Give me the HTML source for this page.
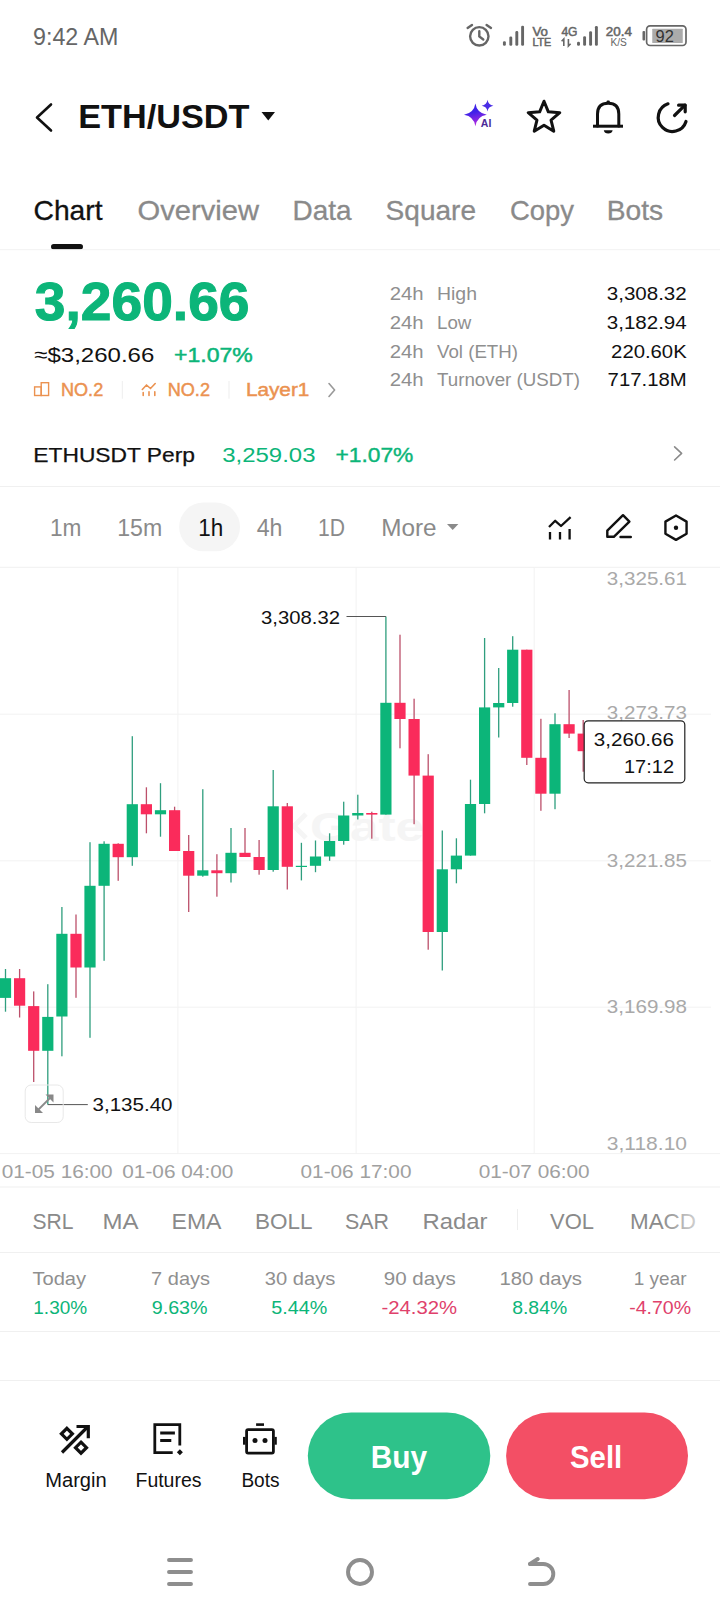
<!DOCTYPE html>
<html><head><meta charset="utf-8"><title>ETH/USDT</title>
<style>
html,body{margin:0;padding:0;background:#fff;}
body{width:720px;height:1612px;overflow:hidden;position:relative;}
svg{position:absolute;left:0;top:0;font-family:'Liberation Sans', Arial, sans-serif;}
</style></head><body>
<svg width="720" height="1612" viewBox="0 0 720 1612">
<text x="33" y="45" font-size="23.3" fill="#666" text-anchor="start" font-weight="normal" textLength="85.3" lengthAdjust="spacingAndGlyphs">9:42 AM</text>
<g stroke="#666" fill="none" stroke-width="2.4" stroke-linecap="round"><circle cx="479.3" cy="36.3" r="9.2"/><path d="M479.3 31.3 V36.5 L483.3 39.5"/><path d="M467.6 27.9 L472 24.9"/><path d="M491 27.9 L486.6 24.9"/></g>
<rect x="502.95" y="41.3" width="2.9" height="4.5" fill="#666" rx="1.3"/>
<rect x="509.35" y="36.4" width="2.9" height="9.399999999999999" fill="#666" rx="1.3"/>
<rect x="515.3499999999999" y="31.1" width="2.9" height="14.699999999999996" fill="#666" rx="1.3"/>
<rect x="521.15" y="25.8" width="2.9" height="19.999999999999996" fill="#666" rx="1.3"/>
<text x="532.4" y="35.6" font-size="13.5" fill="#666" text-anchor="start" font-weight="normal" textLength="15.5" lengthAdjust="spacingAndGlyphs" stroke="#666" stroke-width="0.55">Vo</text>
<text x="532.4" y="46.1" font-size="11.5" fill="#666" text-anchor="start" font-weight="normal" textLength="18.9" lengthAdjust="spacingAndGlyphs" stroke="#666" stroke-width="0.55">LTE</text>
<text x="561.4" y="35.6" font-size="13.5" fill="#666" text-anchor="start" font-weight="normal" textLength="16.1" lengthAdjust="spacingAndGlyphs" stroke="#666" stroke-width="0.55">4G</text>
<g stroke="#666" stroke-width="1.6" fill="none"><path d="M563.8 46 V39 L561.6 41.2"/><path d="M568.4 39 V46 L570.6 43.8"/></g>
<rect x="577.05" y="41.8" width="2.9" height="4.0" fill="#666" rx="1.3"/>
<rect x="583.15" y="36.2" width="2.9" height="9.599999999999994" fill="#666" rx="1.3"/>
<rect x="589.15" y="31.2" width="2.9" height="14.599999999999998" fill="#666" rx="1.3"/>
<rect x="594.9499999999999" y="25.9" width="2.9" height="19.9" fill="#666" rx="1.3"/>
<text x="605.8" y="36.3" font-size="13" fill="#666" text-anchor="start" font-weight="normal" textLength="26.1" lengthAdjust="spacingAndGlyphs" stroke="#666" stroke-width="0.55">20.4</text>
<text x="610.4" y="46.1" font-size="10" fill="#666" text-anchor="start" font-weight="normal" textLength="16.4" lengthAdjust="spacingAndGlyphs">K/S</text>
<rect x="646.6" y="25.9" width="39.4" height="19.6" fill="none" rx="3.5" stroke="#666" stroke-width="1.7"/>
<rect x="642.5" y="30.9" width="2.6" height="9.6" fill="#666" rx="1"/>
<rect x="652.25" y="28.8" width="30.5" height="14.2" fill="#ababab" rx="0.5"/>
<text x="655.6" y="41.75" font-size="16.3" fill="#333" text-anchor="start" font-weight="normal" textLength="18.3" lengthAdjust="spacingAndGlyphs">92</text>
<path d="M51 104.5 L37 117.5 L51 130.5" stroke="#111" stroke-width="2.6" fill="none" stroke-linecap="round" stroke-linejoin="round"/>
<text x="78.2" y="128.4" font-size="33.8" fill="#111" text-anchor="start" font-weight="bold" textLength="171.3" lengthAdjust="spacingAndGlyphs">ETH/USDT</text>
<path d="M261.5 112 H275 L268.25 120.5 Z" fill="#111"/>
<defs><linearGradient id="ai" x1="0" y1="0" x2="0.25" y2="1"><stop offset="0.45" stop-color="#3f22e8"/><stop offset="1" stop-color="#b02ae0"/></linearGradient></defs>
<path d="M475.4 103.6 Q476.9 113.2 486.8 114.8 Q476.9 116.4 475.4 126.3 Q473.9 116.4 464 114.8 Q473.9 113.2 475.4 103.6 Z" fill="url(#ai)"/>
<path d="M487.5 99.8 Q488.2 105 493.4 105.7 Q488.2 106.4 487.5 111.6 Q486.8 106.4 481.7 105.7 Q486.8 105 487.5 99.8 Z" fill="#4a2ee6"/>
<text x="480.8" y="126.7" font-size="10" fill="#4b2b98" text-anchor="start" font-weight="bold" textLength="10.5" lengthAdjust="spacingAndGlyphs">AI</text>
<path d="M544.00 101.20 L548.35 111.81 L559.79 112.67 L551.04 120.09 L553.76 131.23 L544.00 125.20 L534.24 131.23 L536.96 120.09 L528.21 112.67 L539.65 111.81 Z" stroke="#111" stroke-width="3" fill="none" stroke-linecap="round" stroke-linejoin="round"/>
<path d="M597.5 126 V114 Q597.5 103.2 608.2 103.2 Q618.8 103.2 618.8 114 V126" stroke="#111" stroke-width="3" fill="none" stroke-linecap="round" stroke-linejoin="round"/>
<line x1="593" y1="126.2" x2="623" y2="126.2" stroke="#111" stroke-width="3"/>
<path d="M603.8 130.2 H612.6 Q612 133.4 608.2 133.4 Q604.4 133.4 603.8 130.2 Z" fill="#111"/>
<rect x="606.6" y="100.6" width="3.2" height="3" fill="#111" rx="1"/>
<path d="M686 121.5 A14.2 14.2 0 1 1 668 103.8" stroke="#111" stroke-width="3.2" fill="none" stroke-linecap="round" stroke-linejoin="round"/>
<path d="M674.5 115.5 L685 105.2" stroke="#111" stroke-width="3.2" fill="none" stroke-linecap="round" stroke-linejoin="round"/>
<path d="M678.6 105.2 H685.2 V111.8" stroke="#111" stroke-width="3.2" fill="none" stroke-linecap="round" stroke-linejoin="round"/>
<text x="33.5" y="220" font-size="27.2" fill="#111" text-anchor="start" font-weight="normal" textLength="69.0" lengthAdjust="spacingAndGlyphs" stroke="#111" stroke-width="0.3">Chart</text>
<text x="137.5" y="220" font-size="27.2" fill="#8a8a8a" text-anchor="start" font-weight="normal" textLength="121.5" lengthAdjust="spacingAndGlyphs" stroke="#8a8a8a" stroke-width="0.3">Overview</text>
<text x="292.5" y="220" font-size="27.2" fill="#8a8a8a" text-anchor="start" font-weight="normal" textLength="59.0" lengthAdjust="spacingAndGlyphs" stroke="#8a8a8a" stroke-width="0.3">Data</text>
<text x="385.6" y="220" font-size="27.2" fill="#8a8a8a" text-anchor="start" font-weight="normal" textLength="90.4" lengthAdjust="spacingAndGlyphs" stroke="#8a8a8a" stroke-width="0.3">Square</text>
<text x="510" y="220" font-size="27.2" fill="#8a8a8a" text-anchor="start" font-weight="normal" textLength="64.0" lengthAdjust="spacingAndGlyphs" stroke="#8a8a8a" stroke-width="0.3">Copy</text>
<text x="606.8" y="220" font-size="27.2" fill="#8a8a8a" text-anchor="start" font-weight="normal" textLength="56.4" lengthAdjust="spacingAndGlyphs" stroke="#8a8a8a" stroke-width="0.3">Bots</text>
<rect x="51" y="244" width="32" height="5.5" fill="#111" rx="2.75"/>
<rect x="0" y="249.2" width="720" height="1" fill="#f2f2f2" rx="0"/>
<text x="34.8" y="320.2" font-size="54.2" fill="#0cb579" text-anchor="start" font-weight="bold" textLength="214.7" lengthAdjust="spacingAndGlyphs" stroke="#0cb579" stroke-width="1.1">3,260.66</text>
<text x="34.3" y="362.3" font-size="21" fill="#111" text-anchor="start" font-weight="normal" textLength="120.0" lengthAdjust="spacingAndGlyphs">≈$3,260.66</text>
<text x="174" y="362.3" font-size="21" fill="#0cb579" text-anchor="start" font-weight="normal" textLength="78.7" lengthAdjust="spacingAndGlyphs" stroke="#0cb579" stroke-width="0.5">+1.07%</text>
<g stroke="#eb9250" stroke-width="1.4" fill="none"><rect x="34.6" y="386.9" width="6.6" height="8.6"/><rect x="41.2" y="382.7" width="7.4" height="12.8"/></g>
<text x="61" y="396" font-size="17.5" fill="#eb9250" text-anchor="start" font-weight="normal" textLength="42.2" lengthAdjust="spacingAndGlyphs" stroke="#eb9250" stroke-width="0.45">NO.2</text>
<rect x="121.8" y="381" width="1" height="17.7" fill="#eeeeee" rx="0"/>
<g stroke="#eb9250" stroke-width="1.6" fill="none" stroke-linecap="round"><path d="M142.3 389.5 L146.5 385 L150.5 388.5 L155.2 383.5"/><path d="M143.2 392.5 V395.5 M149 391.8 V395.5 M154.8 391.8 V395.5"/></g>
<text x="167.7" y="396" font-size="17.5" fill="#eb9250" text-anchor="start" font-weight="normal" textLength="42.3" lengthAdjust="spacingAndGlyphs" stroke="#eb9250" stroke-width="0.45">NO.2</text>
<rect x="228.5" y="381" width="1" height="17.7" fill="#eeeeee" rx="0"/>
<text x="245.9" y="396" font-size="17.5" fill="#eb9250" text-anchor="start" font-weight="normal" textLength="63.5" lengthAdjust="spacingAndGlyphs" stroke="#eb9250" stroke-width="0.45">Layer1</text>
<path d="M329 383.5 L334.6 390 L329 396.5" stroke="#999" stroke-width="1.6" fill="none" stroke-linecap="round" stroke-linejoin="round"/>
<text x="389.7" y="299.7" font-size="18.7" fill="#8f8f8f" text-anchor="start" font-weight="normal" textLength="34.0" lengthAdjust="spacingAndGlyphs">24h</text>
<text x="437" y="299.7" font-size="18.7" fill="#8f8f8f" text-anchor="start" font-weight="normal" textLength="40.0" lengthAdjust="spacingAndGlyphs">High</text>
<text x="606.8" y="299.7" font-size="18.7" fill="#111" text-anchor="start" font-weight="normal" textLength="79.9" lengthAdjust="spacingAndGlyphs">3,308.32</text>
<text x="389.7" y="328.7" font-size="18.7" fill="#8f8f8f" text-anchor="start" font-weight="normal" textLength="34.0" lengthAdjust="spacingAndGlyphs">24h</text>
<text x="437" y="328.7" font-size="18.7" fill="#8f8f8f" text-anchor="start" font-weight="normal">Low</text>
<text x="606.8" y="328.7" font-size="18.7" fill="#111" text-anchor="start" font-weight="normal" textLength="79.9" lengthAdjust="spacingAndGlyphs">3,182.94</text>
<text x="389.7" y="357.6" font-size="18.7" fill="#8f8f8f" text-anchor="start" font-weight="normal" textLength="34.0" lengthAdjust="spacingAndGlyphs">24h</text>
<text x="437" y="357.6" font-size="18.7" fill="#8f8f8f" text-anchor="start" font-weight="normal">Vol (ETH)</text>
<text x="611.1" y="357.6" font-size="18.7" fill="#111" text-anchor="start" font-weight="normal" textLength="75.6" lengthAdjust="spacingAndGlyphs">220.60K</text>
<text x="389.7" y="386.4" font-size="18.7" fill="#8f8f8f" text-anchor="start" font-weight="normal" textLength="34.0" lengthAdjust="spacingAndGlyphs">24h</text>
<text x="437" y="386.4" font-size="18.7" fill="#8f8f8f" text-anchor="start" font-weight="normal" textLength="143.0" lengthAdjust="spacingAndGlyphs">Turnover (USDT)</text>
<text x="607.6" y="386.4" font-size="18.7" fill="#111" text-anchor="start" font-weight="normal" textLength="79.1" lengthAdjust="spacingAndGlyphs">717.18M</text>
<text x="33.3" y="462.4" font-size="20.5" fill="#111" text-anchor="start" font-weight="normal" textLength="161.7" lengthAdjust="spacingAndGlyphs" stroke="#111" stroke-width="0.25">ETHUSDT Perp</text>
<text x="222.2" y="462.4" font-size="20.5" fill="#0cb579" text-anchor="start" font-weight="normal" textLength="93.3" lengthAdjust="spacingAndGlyphs">3,259.03</text>
<text x="335.4" y="462.4" font-size="20.5" fill="#0cb579" text-anchor="start" font-weight="normal" textLength="78.0" lengthAdjust="spacingAndGlyphs" stroke="#0cb579" stroke-width="0.4">+1.07%</text>
<path d="M674.6 446.8 L681.6 453.4 L674.6 460" stroke="#8a8a8a" stroke-width="1.6" fill="none" stroke-linecap="round" stroke-linejoin="round"/>
<rect x="0" y="486" width="720" height="1" fill="#f0f0f0" rx="0"/>
<rect x="179.2" y="502.5" width="60.8" height="48.8" fill="#f5f5f5" rx="24.4"/>
<text x="50" y="536" font-size="23" fill="#8a8a8a" text-anchor="start" font-weight="normal" textLength="31.5" lengthAdjust="spacingAndGlyphs">1m</text>
<text x="117.2" y="536" font-size="23" fill="#8a8a8a" text-anchor="start" font-weight="normal" textLength="45.0" lengthAdjust="spacingAndGlyphs">15m</text>
<text x="198.3" y="536" font-size="23" fill="#111" text-anchor="start" font-weight="normal" textLength="25.0" lengthAdjust="spacingAndGlyphs">1h</text>
<text x="256.7" y="536" font-size="23" fill="#8a8a8a" text-anchor="start" font-weight="normal" textLength="25.8" lengthAdjust="spacingAndGlyphs">4h</text>
<text x="318" y="536" font-size="23" fill="#8a8a8a" text-anchor="start" font-weight="normal" textLength="27.0" lengthAdjust="spacingAndGlyphs">1D</text>
<text x="381.25" y="536" font-size="23" fill="#8a8a8a" text-anchor="start" font-weight="normal" textLength="55.4" lengthAdjust="spacingAndGlyphs">More</text>
<path d="M447 524 H458.4 L452.7 530 Z" fill="#8a8a8a"/>
<g stroke="#111" stroke-width="2.3" fill="none" stroke-linecap="butt" stroke-linejoin="round"><path d="M549 527 L555.2 520.8 L561 526 L570.6 517.2"/><path d="M550 532 V539.5 M560 532 V539.5 M569.6 529 V539.5"/></g>
<g stroke="#111" stroke-width="2.4" fill="none" stroke-linejoin="round" stroke-linecap="round"><path d="M607.3 536.8 V530.6 L623 515.2 L629.4 521.6 L613.8 536.8 Z"/><path d="M620.5 537 H630.8"/></g>
<path d="M676.00 515.50 L686.57 521.60 L686.57 533.80 L676.00 539.90 L665.43 533.80 L665.43 521.60 Z" stroke="#111" stroke-width="2.4" fill="none" stroke-linecap="round" stroke-linejoin="round"/>
<circle cx="676" cy="527.7" r="2.2" fill="#111"/>
<rect x="0" y="566.8" width="720" height="1" fill="#f0f0f0" rx="0"/>
<rect x="0" y="713.7" width="711" height="1" fill="#f2f2f2" rx="0"/>
<rect x="0" y="860.3" width="711" height="1" fill="#f2f2f2" rx="0"/>
<rect x="0" y="1006.7" width="711" height="1" fill="#f2f2f2" rx="0"/>
<rect x="0" y="1153.1" width="720" height="1" fill="#f2f2f2" rx="0"/>
<rect x="177.4" y="567.5" width="1" height="586" fill="#f2f2f2" rx="0"/>
<rect x="355.6" y="567.5" width="1" height="586" fill="#f2f2f2" rx="0"/>
<rect x="533.7" y="567.5" width="1" height="586" fill="#f2f2f2" rx="0"/>
<path d="M306 814 L294 826 L306 838" stroke="#f5f5f5" stroke-width="5" fill="none"/>
<text x="310" y="841" font-size="40" fill="#f5f5f5" text-anchor="start" font-weight="bold" textLength="114.0" lengthAdjust="spacingAndGlyphs">Gate</text>
<rect x="4.85" y="969" width="1.3" height="42.7" fill="#2f9e7e" rx="0"/>
<rect x="-0.1" y="978.2" width="11.2" height="19.7" fill="#0cb579" rx="0"/>
<rect x="18.95" y="969" width="1.3" height="48.5" fill="#bc506b" rx="0"/>
<rect x="14.0" y="978.2" width="11.2" height="27.5" fill="#fa2b5b" rx="0"/>
<rect x="33.05" y="991.4" width="1.3" height="90.6" fill="#bc506b" rx="0"/>
<rect x="28.1" y="1006.1" width="11.2" height="44.7" fill="#fa2b5b" rx="0"/>
<rect x="47.15" y="984.2" width="1.3" height="120.4" fill="#2f9e7e" rx="0"/>
<rect x="42.2" y="1016.9" width="11.2" height="33.9" fill="#0cb579" rx="0"/>
<rect x="61.25" y="907" width="1.3" height="149.3" fill="#2f9e7e" rx="0"/>
<rect x="56.3" y="933.8" width="11.2" height="82.7" fill="#0cb579" rx="0"/>
<rect x="75.35" y="914.5" width="1.3" height="83.3" fill="#bc506b" rx="0"/>
<rect x="70.4" y="933.8" width="11.2" height="33.7" fill="#fa2b5b" rx="0"/>
<rect x="89.35" y="842.2" width="1.3" height="195.6" fill="#2f9e7e" rx="0"/>
<rect x="84.4" y="885.8" width="11.2" height="81.7" fill="#0cb579" rx="0"/>
<rect x="103.45" y="841.3" width="1.3" height="119.5" fill="#2f9e7e" rx="0"/>
<rect x="98.5" y="843.8" width="11.2" height="42.0" fill="#0cb579" rx="0"/>
<rect x="117.55" y="843.3" width="1.3" height="37.5" fill="#bc506b" rx="0"/>
<rect x="112.6" y="843.8" width="11.2" height="13.4" fill="#fa2b5b" rx="0"/>
<rect x="131.65" y="736.2" width="1.3" height="129.6" fill="#2f9e7e" rx="0"/>
<rect x="126.7" y="804.2" width="11.2" height="53.0" fill="#0cb579" rx="0"/>
<rect x="145.75" y="787.3" width="1.3" height="46.0" fill="#bc506b" rx="0"/>
<rect x="140.8" y="804.2" width="11.2" height="10.1" fill="#fa2b5b" rx="0"/>
<rect x="159.85" y="783.2" width="1.3" height="53.5" fill="#2f9e7e" rx="0"/>
<rect x="154.9" y="810.2" width="11.2" height="4.1" fill="#0cb579" rx="0"/>
<rect x="173.95" y="806.7" width="1.3" height="44.3" fill="#bc506b" rx="0"/>
<rect x="169.0" y="810.2" width="11.2" height="40.8" fill="#fa2b5b" rx="0"/>
<rect x="188.05" y="835" width="1.3" height="77" fill="#bc506b" rx="0"/>
<rect x="183.1" y="851" width="11.2" height="24.7" fill="#fa2b5b" rx="0"/>
<rect x="202.15" y="789.2" width="1.3" height="87.5" fill="#2f9e7e" rx="0"/>
<rect x="197.2" y="870.3" width="11.2" height="5.4" fill="#0cb579" rx="0"/>
<rect x="216.25" y="854.2" width="1.3" height="42.5" fill="#bc506b" rx="0"/>
<rect x="211.3" y="870.3" width="11.2" height="2.9" fill="#fa2b5b" rx="0"/>
<rect x="230.35" y="828" width="1.3" height="54.5" fill="#2f9e7e" rx="0"/>
<rect x="225.4" y="852.8" width="11.2" height="20.4" fill="#0cb579" rx="0"/>
<rect x="244.35" y="828" width="1.3" height="29" fill="#bc506b" rx="0"/>
<rect x="239.4" y="852.8" width="11.2" height="4.2" fill="#fa2b5b" rx="0"/>
<rect x="258.45" y="840" width="1.3" height="34.7" fill="#bc506b" rx="0"/>
<rect x="253.5" y="857" width="11.2" height="13" fill="#fa2b5b" rx="0"/>
<rect x="272.55" y="770" width="1.3" height="101.7" fill="#2f9e7e" rx="0"/>
<rect x="267.6" y="806.3" width="11.2" height="63.7" fill="#0cb579" rx="0"/>
<rect x="286.65" y="803" width="1.3" height="86.5" fill="#bc506b" rx="0"/>
<rect x="281.7" y="806.3" width="11.2" height="60.5" fill="#fa2b5b" rx="0"/>
<rect x="300.75" y="842.8" width="1.3" height="37.6" fill="#2f9e7e" rx="0"/>
<rect x="295.8" y="865.8" width="11.2" height="1.2" fill="#0cb579" rx="0"/>
<rect x="314.85" y="840.5" width="1.3" height="31.7" fill="#2f9e7e" rx="0"/>
<rect x="309.9" y="856.5" width="11.2" height="9.3" fill="#0cb579" rx="0"/>
<rect x="328.95" y="833.3" width="1.3" height="27.5" fill="#2f9e7e" rx="0"/>
<rect x="324.0" y="841" width="11.2" height="15.5" fill="#0cb579" rx="0"/>
<rect x="343.05" y="801.7" width="1.3" height="43.0" fill="#2f9e7e" rx="0"/>
<rect x="338.1" y="815.5" width="11.2" height="25.5" fill="#0cb579" rx="0"/>
<rect x="357.15" y="794.7" width="1.3" height="24.8" fill="#2f9e7e" rx="0"/>
<rect x="352.2" y="813" width="11.2" height="2.5" fill="#0cb579" rx="0"/>
<rect x="371.15" y="811.7" width="1.3" height="27.0" fill="#bc506b" rx="0"/>
<rect x="366.2" y="813" width="11.2" height="1.6" fill="#fa2b5b" rx="0"/>
<rect x="385.25" y="616.5" width="1.3" height="198.1" fill="#2f9e7e" rx="0"/>
<rect x="380.3" y="702.8" width="11.2" height="111.8" fill="#0cb579" rx="0"/>
<rect x="399.35" y="634.7" width="1.3" height="113.6" fill="#bc506b" rx="0"/>
<rect x="394.4" y="702.8" width="11.2" height="16.2" fill="#fa2b5b" rx="0"/>
<rect x="413.45" y="698.7" width="1.3" height="125.5" fill="#bc506b" rx="0"/>
<rect x="408.5" y="719" width="11.2" height="56.6" fill="#fa2b5b" rx="0"/>
<rect x="427.55" y="754.2" width="1.3" height="195.5" fill="#bc506b" rx="0"/>
<rect x="422.6" y="775.6" width="11.2" height="156.4" fill="#fa2b5b" rx="0"/>
<rect x="441.65" y="830.5" width="1.3" height="140.0" fill="#2f9e7e" rx="0"/>
<rect x="436.7" y="869.3" width="11.2" height="62.7" fill="#0cb579" rx="0"/>
<rect x="455.75" y="838.3" width="1.3" height="45.0" fill="#2f9e7e" rx="0"/>
<rect x="450.8" y="855.6" width="11.2" height="13.7" fill="#0cb579" rx="0"/>
<rect x="469.85" y="779.7" width="1.3" height="75.9" fill="#2f9e7e" rx="0"/>
<rect x="464.9" y="804" width="11.2" height="51.6" fill="#0cb579" rx="0"/>
<rect x="483.95" y="638" width="1.3" height="175.3" fill="#2f9e7e" rx="0"/>
<rect x="479.0" y="707.4" width="11.2" height="96.6" fill="#0cb579" rx="0"/>
<rect x="498.05" y="668" width="1.3" height="69.5" fill="#2f9e7e" rx="0"/>
<rect x="493.1" y="703" width="11.2" height="4.4" fill="#0cb579" rx="0"/>
<rect x="512.05" y="636.2" width="1.3" height="70.5" fill="#2f9e7e" rx="0"/>
<rect x="507.1" y="649.7" width="11.2" height="53.3" fill="#0cb579" rx="0"/>
<rect x="526.15" y="649.7" width="1.3" height="115.3" fill="#bc506b" rx="0"/>
<rect x="521.2" y="649.7" width="11.2" height="108.1" fill="#fa2b5b" rx="0"/>
<rect x="540.25" y="718.8" width="1.3" height="92.0" fill="#bc506b" rx="0"/>
<rect x="535.3" y="757.8" width="11.2" height="35.9" fill="#fa2b5b" rx="0"/>
<rect x="554.35" y="713.3" width="1.3" height="95.9" fill="#2f9e7e" rx="0"/>
<rect x="549.4" y="724.2" width="11.2" height="69.5" fill="#0cb579" rx="0"/>
<rect x="568.45" y="690" width="1.3" height="48" fill="#bc506b" rx="0"/>
<rect x="563.5" y="724.2" width="11.2" height="9.4" fill="#fa2b5b" rx="0"/>
<rect x="582.55" y="720" width="1.3" height="51.7" fill="#bc506b" rx="0"/>
<rect x="577.6" y="733.6" width="11.2" height="17.6" fill="#fa2b5b" rx="0"/>
<text x="606.8" y="585" font-size="18.6" fill="#a9a9a9" text-anchor="start" font-weight="normal" textLength="80.2" lengthAdjust="spacingAndGlyphs">3,325.61</text>
<text x="606.8" y="719.4" font-size="18.6" fill="#a9a9a9" text-anchor="start" font-weight="normal" textLength="80.2" lengthAdjust="spacingAndGlyphs">3,273.73</text>
<text x="606.8" y="866.7" font-size="18.6" fill="#a9a9a9" text-anchor="start" font-weight="normal" textLength="80.2" lengthAdjust="spacingAndGlyphs">3,221.85</text>
<text x="606.8" y="1012.6" font-size="18.6" fill="#a9a9a9" text-anchor="start" font-weight="normal" textLength="80.2" lengthAdjust="spacingAndGlyphs">3,169.98</text>
<text x="606.8" y="1150.2" font-size="18.6" fill="#a9a9a9" text-anchor="start" font-weight="normal" textLength="80.2" lengthAdjust="spacingAndGlyphs">3,118.10</text>
<text x="261" y="624" font-size="18.6" fill="#111" text-anchor="start" font-weight="normal" textLength="79.0" lengthAdjust="spacingAndGlyphs">3,308.32</text>
<rect x="346.5" y="616" width="39.4" height="1" fill="#555" rx="0"/>
<rect x="47.8" y="1104.1" width="40" height="1" fill="#555" rx="0"/>
<text x="92.5" y="1111" font-size="18.6" fill="#111" text-anchor="start" font-weight="normal" textLength="80.0" lengthAdjust="spacingAndGlyphs">3,135.40</text>
<rect x="25.2" y="1085" width="38" height="37.5" fill="none" rx="6" stroke="#e8e8e8" stroke-width="1"/>
<g fill="#888"><path d="M35 1113 L35 1105 L43 1113 Z"/><path d="M53.5 1094.5 L53.5 1102.5 L45.5 1094.5 Z"/></g>
<path d="M37.5 1110.5 L51 1097" stroke="#8a8a8a" stroke-width="1.8"/>
<rect x="584.2" y="720.8" width="100.6" height="62" fill="#fff" rx="4" stroke="#222" stroke-width="1.2"/>
<text x="593.8" y="746" font-size="18.6" fill="#111" text-anchor="start" font-weight="normal" textLength="80.2" lengthAdjust="spacingAndGlyphs">3,260.66</text>
<text x="674" y="773" font-size="18.6" fill="#111" text-anchor="end" font-weight="normal" textLength="50.0" lengthAdjust="spacingAndGlyphs">17:12</text>
<text x="1.7" y="1178.3" font-size="18.6" fill="#a0a0a0" text-anchor="start" font-weight="normal" textLength="111.0" lengthAdjust="spacingAndGlyphs">01-05 16:00</text>
<text x="122.3" y="1178.3" font-size="18.6" fill="#a0a0a0" text-anchor="start" font-weight="normal" textLength="111.0" lengthAdjust="spacingAndGlyphs">01-06 04:00</text>
<text x="300.5" y="1178.3" font-size="18.6" fill="#a0a0a0" text-anchor="start" font-weight="normal" textLength="111.0" lengthAdjust="spacingAndGlyphs">01-06 17:00</text>
<text x="478.7" y="1178.3" font-size="18.6" fill="#a0a0a0" text-anchor="start" font-weight="normal" textLength="111.0" lengthAdjust="spacingAndGlyphs">01-07 06:00</text>
<rect x="0" y="1186.5" width="720" height="1" fill="#f0f0f0" rx="0"/>
<text x="32.5" y="1229.2" font-size="22.6" fill="#8a8a8a" text-anchor="start" font-weight="normal" textLength="41.0" lengthAdjust="spacingAndGlyphs">SRL</text>
<text x="102.5" y="1229.2" font-size="22.6" fill="#8a8a8a" text-anchor="start" font-weight="normal" textLength="36.0" lengthAdjust="spacingAndGlyphs">MA</text>
<text x="171.5" y="1229.2" font-size="22.6" fill="#8a8a8a" text-anchor="start" font-weight="normal" textLength="50.0" lengthAdjust="spacingAndGlyphs">EMA</text>
<text x="255" y="1229.2" font-size="22.6" fill="#8a8a8a" text-anchor="start" font-weight="normal" textLength="57.5" lengthAdjust="spacingAndGlyphs">BOLL</text>
<text x="345" y="1229.2" font-size="22.6" fill="#8a8a8a" text-anchor="start" font-weight="normal" textLength="44.0" lengthAdjust="spacingAndGlyphs">SAR</text>
<text x="422.5" y="1229.2" font-size="22.6" fill="#8a8a8a" text-anchor="start" font-weight="normal" textLength="65.0" lengthAdjust="spacingAndGlyphs">Radar</text>
<text x="550" y="1229.2" font-size="22.6" fill="#8a8a8a" text-anchor="start" font-weight="normal" textLength="44.0" lengthAdjust="spacingAndGlyphs">VOL</text>
<text x="630" y="1229.2" font-size="22.6" fill="#8a8a8a" text-anchor="start" font-weight="normal" textLength="66.0" lengthAdjust="spacingAndGlyphs">MACD</text>
<rect x="517" y="1209" width="1" height="21" fill="#eeeeee" rx="0"/>
<defs><linearGradient id="fade" x1="0" x2="1"><stop offset="0" stop-color="#fff" stop-opacity="0"/><stop offset="1" stop-color="#fff" stop-opacity="1"/></linearGradient></defs>
<rect x="660" y="1200" width="60" height="45" fill="url(#fade)" rx="0"/>
<rect x="0" y="1252" width="720" height="1" fill="#f0f0f0" rx="0"/>
<text x="32.4" y="1284.7" font-size="19" fill="#8f8f8f" text-anchor="start" font-weight="normal" textLength="53.7" lengthAdjust="spacingAndGlyphs">Today</text>
<text x="33.3" y="1313.9" font-size="19" fill="#0cb579" text-anchor="start" font-weight="normal" textLength="53.9" lengthAdjust="spacingAndGlyphs">1.30%</text>
<text x="151.1" y="1284.7" font-size="19" fill="#8f8f8f" text-anchor="start" font-weight="normal" textLength="58.9" lengthAdjust="spacingAndGlyphs">7 days</text>
<text x="151.7" y="1313.9" font-size="19" fill="#0cb579" text-anchor="start" font-weight="normal" textLength="55.9" lengthAdjust="spacingAndGlyphs">9.63%</text>
<text x="264.8" y="1284.7" font-size="19" fill="#8f8f8f" text-anchor="start" font-weight="normal" textLength="70.5" lengthAdjust="spacingAndGlyphs">30 days</text>
<text x="271.2" y="1313.9" font-size="19" fill="#0cb579" text-anchor="start" font-weight="normal" textLength="56.0" lengthAdjust="spacingAndGlyphs">5.44%</text>
<text x="383.8" y="1284.7" font-size="19" fill="#8f8f8f" text-anchor="start" font-weight="normal" textLength="72.0" lengthAdjust="spacingAndGlyphs">90 days</text>
<text x="381.5" y="1313.9" font-size="19" fill="#e0416b" text-anchor="start" font-weight="normal" textLength="75.7" lengthAdjust="spacingAndGlyphs">-24.32%</text>
<text x="499.4" y="1284.7" font-size="19" fill="#8f8f8f" text-anchor="start" font-weight="normal" textLength="82.6" lengthAdjust="spacingAndGlyphs">180 days</text>
<text x="512.2" y="1313.9" font-size="19" fill="#0cb579" text-anchor="start" font-weight="normal" textLength="55.0" lengthAdjust="spacingAndGlyphs">8.84%</text>
<text x="633.8" y="1284.7" font-size="19" fill="#8f8f8f" text-anchor="start" font-weight="normal" textLength="52.7" lengthAdjust="spacingAndGlyphs">1 year</text>
<text x="629.2" y="1313.9" font-size="19" fill="#e0416b" text-anchor="start" font-weight="normal" textLength="61.9" lengthAdjust="spacingAndGlyphs">-4.70%</text>
<rect x="0" y="1331" width="720" height="1" fill="#f0f0f0" rx="0"/>
<rect x="0" y="1380" width="720" height="1" fill="#f0f0f0" rx="0"/>
<g stroke="#111" stroke-width="3.2" fill="none"><path d="M62 1452.5 L87.5 1427"/><path d="M76.5 1426.5 H88.3 V1438.3"/><path d="M66.9 1428.3 L72.4 1433.8 L66.9 1439.3 L61.4 1433.8 Z"/><path d="M81 1442.2 L86.5 1447.7 L81 1453.2 L75.5 1447.7 Z"/></g>
<g stroke="#111" stroke-width="2.8" fill="none"><path d="M172.7 1452.7 H154.8 V1424.7 H179.8 V1445.5"/><path d="M160.2 1433 H174.9 M160.2 1440.5 H171.3"/></g><path d="M179.9 1449.2 L182.9 1452.2 L179.9 1455.2 L176.9 1452.2 Z" fill="#111"/>
<g fill="#111"><rect x="256.1" y="1423.3" width="7.9" height="2.6"/><rect x="243" y="1436.9" width="2.6" height="7.8"/><rect x="274.4" y="1436.9" width="2.4" height="7.8"/><circle cx="255" cy="1440.5" r="2.5"/><circle cx="265" cy="1440.5" r="2.5"/></g><rect x="246.6" y="1429.6" width="26.8" height="23.5" rx="1.5" stroke="#111" stroke-width="2.8" fill="none"/>
<text x="45.2" y="1487" font-size="20" fill="#111" text-anchor="start" font-weight="normal" textLength="61.5" lengthAdjust="spacingAndGlyphs">Margin</text>
<text x="135.5" y="1487" font-size="20" fill="#111" text-anchor="start" font-weight="normal" textLength="66.0" lengthAdjust="spacingAndGlyphs">Futures</text>
<text x="241.4" y="1487" font-size="20" fill="#111" text-anchor="start" font-weight="normal" textLength="38.2" lengthAdjust="spacingAndGlyphs">Bots</text>
<rect x="307.8" y="1412.5" width="182.5" height="86.7" fill="#2ec28a" rx="43.35"/>
<rect x="506.1" y="1412.5" width="181.9" height="86.7" fill="#f34f65" rx="43.35"/>
<text x="370.8" y="1468.2" font-size="31" fill="#fff" text-anchor="start" font-weight="bold" textLength="56.4" lengthAdjust="spacingAndGlyphs">Buy</text>
<text x="570" y="1468.2" font-size="31" fill="#fff" text-anchor="start" font-weight="bold" textLength="52.2" lengthAdjust="spacingAndGlyphs">Sell</text>
<g stroke="#8e8e8e" stroke-width="3.9" stroke-linecap="round" fill="none"><path d="M169 1560 H191 M169 1572 H191 M169 1584 H191"/><circle cx="360" cy="1572" r="12"/><path d="M530 1564 H543.3 A10 10 0 0 1 543.3 1584 H530"/><path d="M530 1564 L537.8 1559"/></g>
</svg>
</body></html>
